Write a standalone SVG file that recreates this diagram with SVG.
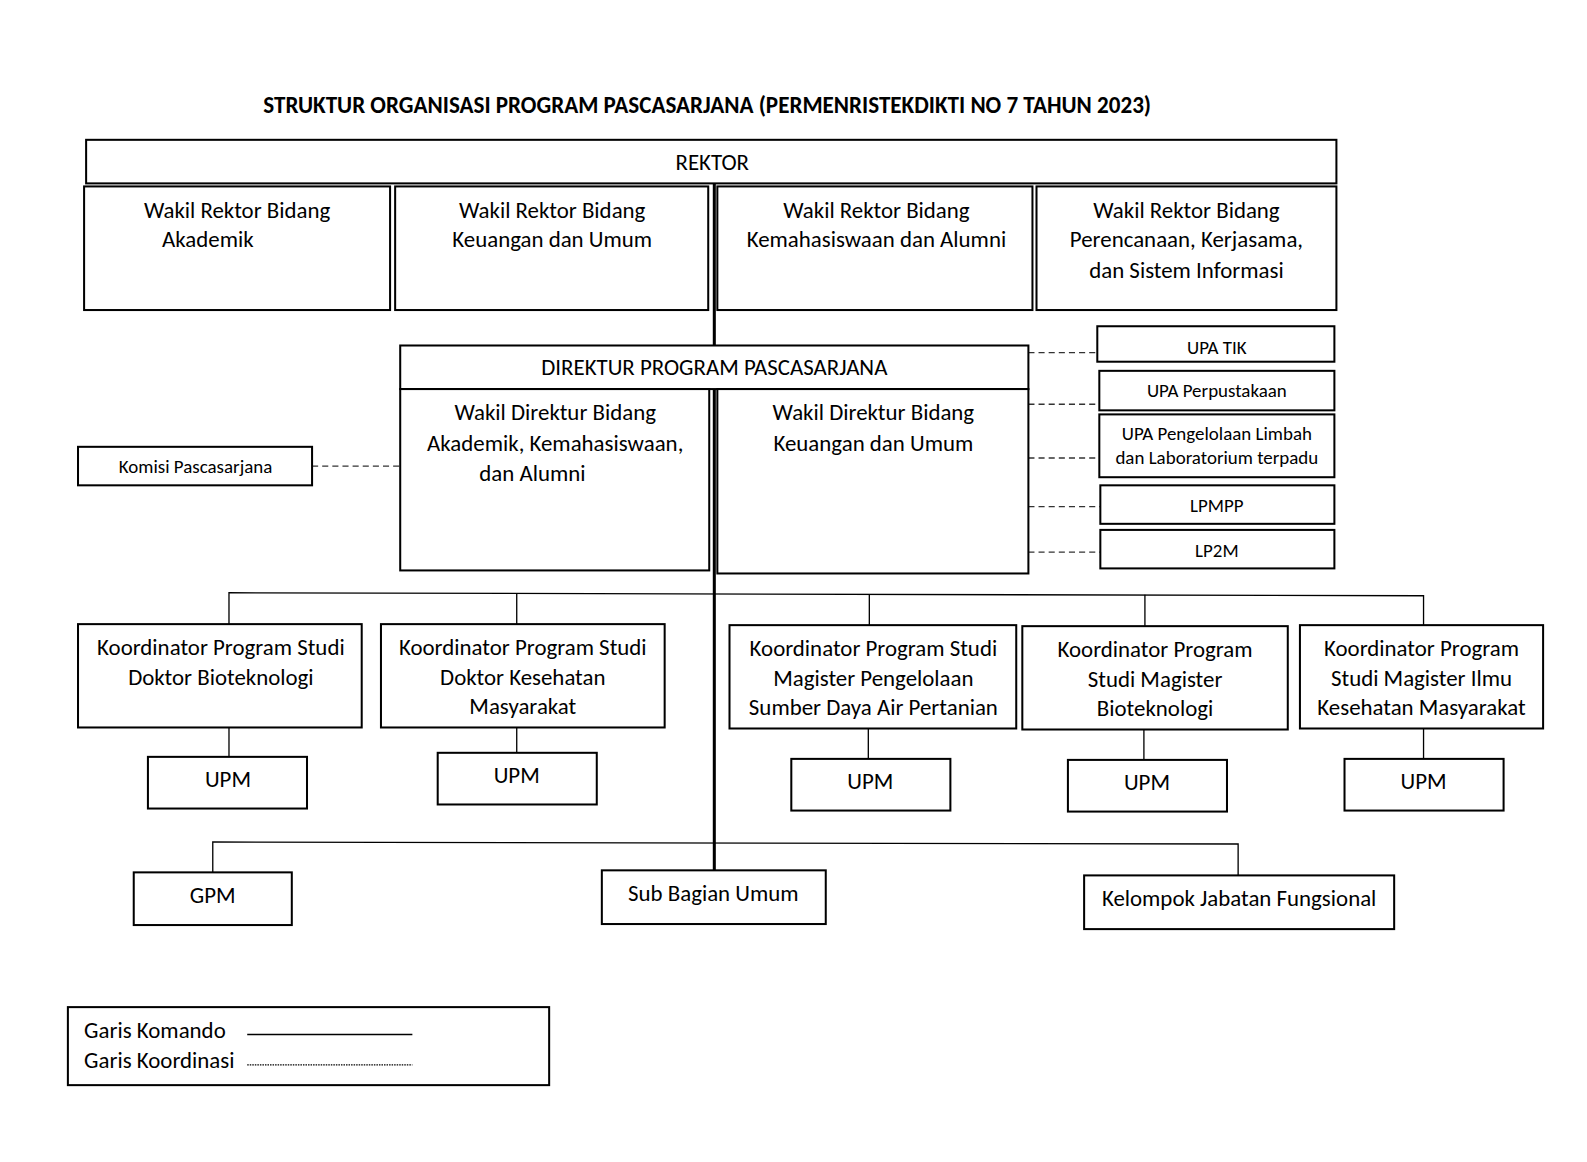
<svg xmlns="http://www.w3.org/2000/svg" width="1587" height="1162" viewBox="0 0 1587 1162">
<style>
text{font-family:Carlito,"Liberation Sans Narrow","Open Sans",sans-serif;fill:#000}
.t{font-size:22.6px;text-anchor:middle}
.l{font-size:22.6px}
.s{font-size:18.7px;text-anchor:middle}
.box{fill:#fff;stroke:#000;stroke-width:2}
.cmd{stroke:#000;stroke-width:1.3;fill:none}
.thick{stroke:#000;stroke-width:3;fill:none}
.coord{stroke:#333;stroke-width:1.3;stroke-dasharray:6 4;fill:none}
</style>
<rect width="1587" height="1162" fill="#fff"/>
<g transform="scale(1.0132)">
<text x="698" y="112" style="font-size:22.8px;font-weight:bold;text-anchor:middle">STRUKTUR ORGANISASI PROGRAM PASCASARJANA (PERMENRISTEKDIKTI NO 7 TAHUN 2023)</text>
<g id="connectors">
<line class="thick" x1="705" y1="181" x2="705" y2="859"/>
<line class="coord" x1="308" y1="460" x2="395" y2="460"/>
<line class="coord" x1="1015" y1="348" x2="1083" y2="348"/>
<line class="coord" x1="1015" y1="399" x2="1085" y2="399"/>
<line class="coord" x1="1015" y1="452" x2="1085" y2="452"/>
<line class="coord" x1="1015" y1="500" x2="1086" y2="500"/>
<line class="coord" x1="1015" y1="545" x2="1086" y2="545"/>
<polyline class="cmd" points="226,616 226,585 1405,588 1405,617"/>
<line class="cmd" x1="510" y1="586" x2="510" y2="616"/>
<line class="cmd" x1="858" y1="587" x2="858" y2="617"/>
<line class="cmd" x1="1130" y1="587" x2="1130" y2="618"/>
<line class="cmd" x1="226" y1="718" x2="226" y2="747"/>
<line class="cmd" x1="510" y1="718" x2="510" y2="743"/>
<line class="cmd" x1="857" y1="719" x2="857" y2="749"/>
<line class="cmd" x1="1129" y1="720" x2="1129" y2="750"/>
<line class="cmd" x1="1405" y1="719" x2="1405" y2="749"/>
<polyline class="cmd" points="210,861 210,831 1222,833 1222,864"/>
</g>
<g id="rektor"><rect class="box" x="85" y="138" width="1234" height="43"/><text class="t" x="703" y="168">REKTOR</text></g>
<g id="wr1"><rect class="box" x="83" y="184" width="302" height="122"/><text class="t" x="234" y="215">Wakil Rektor Bidang</text><text class="l" x="160" y="244">Akademik</text></g>
<g id="wr2"><rect class="box" x="390" y="184" width="309" height="122"/><text class="t" x="545" y="215">Wakil Rektor Bidang</text><text class="t" x="545" y="244">Keuangan dan Umum</text></g>
<g id="wr3"><rect class="box" x="708" y="184" width="311" height="122"/><text class="t" x="865" y="215">Wakil Rektor Bidang</text><text class="t" x="865" y="244">Kemahasiswaan dan Alumni</text></g>
<g id="wr4"><rect class="box" x="1023" y="184" width="296" height="122"/><text class="t" x="1171" y="215">Wakil Rektor Bidang</text><text class="t" x="1171" y="244">Perencanaan, Kerjasama,</text><text class="t" x="1171" y="274">dan Sistem Informasi</text></g>
<g id="direktur"><rect class="box" x="395" y="341" width="620" height="43"/><text class="t" x="705" y="370">DIREKTUR PROGRAM PASCASARJANA</text></g>
<g id="wd1"><rect class="box" x="395" y="384" width="305" height="179"/><text class="t" x="548" y="415">Wakil Direktur Bidang</text><text class="t" x="548" y="445">Akademik, Kemahasiswaan,</text><text class="l" x="473" y="475">dan Alumni</text></g>
<g id="wd2"><rect class="box" x="708" y="384" width="307" height="182"/><text class="t" x="862" y="415">Wakil Direktur Bidang</text><text class="t" x="862" y="445">Keuangan dan Umum</text></g>
<g id="komisi"><rect class="box" x="77" y="441" width="231" height="38"/><text class="s" x="193" y="467">Komisi Pascasarjana</text></g>
<g id="upatik"><rect class="box" x="1083" y="322" width="234" height="35"/><text class="s" x="1201" y="349">UPA TIK</text></g>
<g id="upaperpus"><rect class="box" x="1085" y="366" width="232" height="39"/><text class="s" x="1201" y="392">UPA Perpustakaan</text></g>
<g id="upalimbah"><rect class="box" x="1085" y="409" width="232" height="62"/><text class="s" x="1201" y="434">UPA Pengelolaan Limbah</text><text class="s" x="1201" y="458">dan Laboratorium terpadu</text></g>
<g id="lpmpp"><rect class="box" x="1086" y="479" width="231" height="38"/><text class="s" x="1201" y="505">LPMPP</text></g>
<g id="lp2m"><rect class="box" x="1086" y="523" width="231" height="38"/><text class="s" x="1201" y="550">LP2M</text></g>
<g id="k1"><rect class="box" x="77" y="616" width="280" height="102"/><text class="t" x="218" y="646">Koordinator Program Studi</text><text class="t" x="218" y="676">Doktor Bioteknologi</text></g>
<g id="k2"><rect class="box" x="376" y="616" width="280" height="102"/><text class="t" x="516" y="646">Koordinator Program Studi</text><text class="t" x="516" y="676">Doktor Kesehatan</text><text class="t" x="516" y="705">Masyarakat</text></g>
<g id="k3"><rect class="box" x="720" y="617" width="283" height="102"/><text class="t" x="862" y="647">Koordinator Program Studi</text><text class="t" x="862" y="677">Magister Pengelolaan</text><text class="t" x="862" y="706">Sumber Daya Air Pertanian</text></g>
<g id="k4"><rect class="box" x="1009" y="618" width="262" height="102"/><text class="t" x="1140" y="648">Koordinator Program</text><text class="t" x="1140" y="678">Studi Magister</text><text class="t" x="1140" y="707">Bioteknologi</text></g>
<g id="k5"><rect class="box" x="1283" y="617" width="240" height="102"/><text class="t" x="1403" y="647">Koordinator Program</text><text class="t" x="1403" y="677">Studi Magister Ilmu</text><text class="t" x="1403" y="706">Kesehatan Masyarakat</text></g>
<g id="upm1"><rect class="box" x="146" y="747" width="157" height="51"/><text class="t" x="225" y="777">UPM</text></g>
<g id="upm2"><rect class="box" x="432" y="743" width="157" height="51"/><text class="t" x="510" y="773">UPM</text></g>
<g id="upm3"><rect class="box" x="781" y="749" width="157" height="51"/><text class="t" x="859" y="779">UPM</text></g>
<g id="upm4"><rect class="box" x="1054" y="750" width="157" height="51"/><text class="t" x="1132" y="780">UPM</text></g>
<g id="upm5"><rect class="box" x="1327" y="749" width="157" height="51"/><text class="t" x="1405" y="779">UPM</text></g>
<g id="gpm"><rect class="box" x="132" y="861" width="156" height="52"/><text class="t" x="210" y="891">GPM</text></g>
<g id="subbag"><rect class="box" x="594" y="859" width="221" height="53"/><text class="t" x="704" y="889">Sub Bagian Umum</text></g>
<g id="jf"><rect class="box" x="1070" y="864" width="306" height="53"/><text class="t" x="1223" y="894">Kelompok Jabatan Fungsional</text></g>
<g id="legend"><rect class="box" x="67" y="994" width="475" height="77"/><text class="l" x="83" y="1024">Garis Komando</text><line class="cmd" x1="244" y1="1021" x2="407" y2="1021"/><text class="l" x="83" y="1054">Garis Koordinasi</text><line x1="244" y1="1051" x2="407" y2="1051" stroke="#000" stroke-width="1" stroke-dasharray="1.5 1"/></g>
</g>
</svg>
